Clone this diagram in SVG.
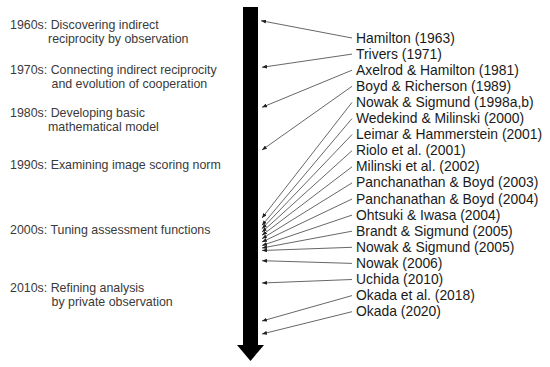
<svg xmlns="http://www.w3.org/2000/svg" width="550" height="367" viewBox="0 0 550 367">
<defs>
<style>
.era{font-family:"Liberation Sans",Arial,sans-serif;font-size:12.4px;fill:#3a3a3a}
.ref{font-family:"Liberation Sans",Arial,sans-serif;font-size:13.9px;fill:#1a1a1a}
.conn line{stroke:#404040;stroke-width:0.8;marker-end:url(#ah)}
</style>
<marker id="ah" markerUnits="userSpaceOnUse" markerWidth="6" markerHeight="4" refX="5" refY="2" orient="auto">
<path d="M0,0 L5,2 L0,4 z" fill="#202020"/>
</marker>
</defs>
<rect width="550" height="367" fill="#fff"/>
<g id="timeline">
<rect x="243" y="7" width="15" height="339" fill="#000"/>
<polygon points="237,345 264,345 250.5,361" fill="#000"/>
</g>
<g id="eras">
<text class="era" x="10" y="28.5">1960s: Discovering indirect</text>
<text class="era" x="48" y="42.5">reciprocity by observation</text>
<text class="era" x="10" y="73.5">1970s: Connecting indirect reciprocity</text>
<text class="era" x="51.5" y="87.5">and evolution of cooperation</text>
<text class="era" x="10" y="117">1980s: Developing basic</text>
<text class="era" x="48" y="131">mathematical model</text>
<text class="era" x="10" y="169">1990s: Examining image scoring norm</text>
<text class="era" x="10" y="234">2000s: Tuning assessment functions</text>
<text class="era" x="10" y="292">2010s: Refining analysis</text>
<text class="era" x="51.5" y="306">by private observation</text>
</g>
<g id="refs">
<text class="ref" x="356" y="42.5">Hamilton (1963)</text>
<text class="ref" x="356" y="58.6">Trivers (1971)</text>
<text class="ref" x="356" y="74.7">Axelrod &amp; Hamilton (1981)</text>
<text class="ref" x="356" y="90.8">Boyd &amp; Richerson (1989)</text>
<text class="ref" x="356" y="106.9">Nowak &amp; Sigmund (1998a,b)</text>
<text class="ref" x="356" y="123">Wedekind &amp; Milinski (2000)</text>
<text class="ref" x="356" y="139.1">Leimar &amp; Hammerstein (2001)</text>
<text class="ref" x="356" y="155.2">Riolo et al. (2001)</text>
<text class="ref" x="356" y="171.3">Milinski et al. (2002)</text>
<text class="ref" x="356" y="187.4">Panchanathan &amp; Boyd (2003)</text>
<text class="ref" x="356" y="203.5">Panchanathan &amp; Boyd (2004)</text>
<text class="ref" x="356" y="219.6">Ohtsuki &amp; Iwasa (2004)</text>
<text class="ref" x="356" y="235.7">Brandt &amp; Sigmund (2005)</text>
<text class="ref" x="356" y="251.8">Nowak &amp; Sigmund (2005)</text>
<text class="ref" x="356" y="267.9">Nowak (2006)</text>
<text class="ref" x="356" y="284">Uchida (2010)</text>
<text class="ref" x="356" y="300.1">Okada et al. (2018)</text>
<text class="ref" x="356" y="316.2">Okada (2020)</text>
</g>
<g id="connectors" class="conn">
<line x1="352" y1="38" x2="261" y2="20.7"/>
<line x1="352" y1="54.1" x2="262" y2="67.3"/>
<line x1="352" y1="70.2" x2="262" y2="107.3"/>
<line x1="352" y1="86.3" x2="262" y2="150"/>
<line x1="352" y1="102.4" x2="262" y2="218"/>
<line x1="352" y1="118.5" x2="262" y2="225.3"/>
<line x1="352" y1="134.6" x2="262" y2="228.7"/>
<line x1="352" y1="150.7" x2="262" y2="232"/>
<line x1="352" y1="166.8" x2="262" y2="235.3"/>
<line x1="352" y1="182.9" x2="262" y2="238.7"/>
<line x1="352" y1="199" x2="262" y2="242"/>
<line x1="352" y1="215.1" x2="262" y2="245.5"/>
<line x1="352" y1="231.2" x2="262" y2="248"/>
<line x1="352" y1="247.3" x2="262" y2="250.5"/>
<line x1="352" y1="263.4" x2="262" y2="260.7"/>
<line x1="352" y1="279.5" x2="262" y2="283"/>
<line x1="352" y1="295.6" x2="262" y2="321"/>
<line x1="352" y1="311.7" x2="262" y2="334"/>
</g>
</svg>
